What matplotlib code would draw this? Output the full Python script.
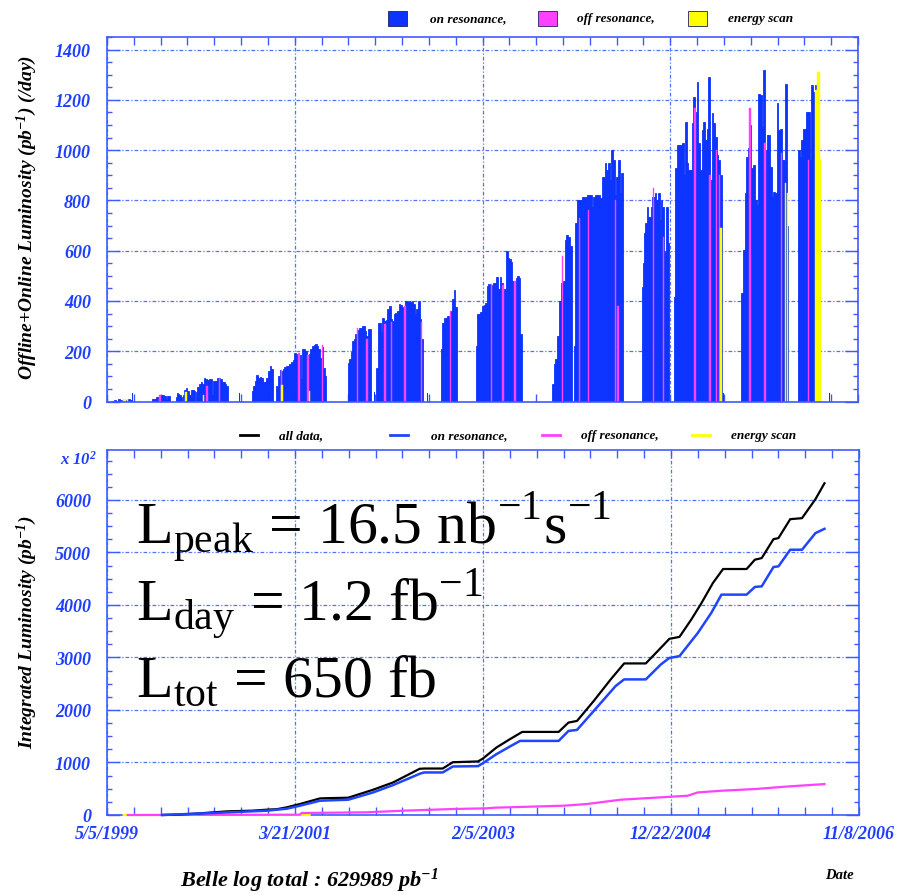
import numpy as np
import matplotlib
matplotlib.use("Agg")
import matplotlib.pyplot as plt
import matplotlib.dates as mdates
import matplotlib.ticker as mticker
from matplotlib.patches import Rectangle
from matplotlib.lines import Line2D

# ---------------------------------------------------------------- data
# Daily luminosity (pb^-1/day), on-resonance running periods.
# Each period: first day, last day, daily values spread evenly over it.
run_starts = ["1999-05-25", "1999-10-15", "2000-01-11", "2000-02-06", "2000-03-24",
              "2000-10-14", "2001-01-13", "2001-09-30", "2002-01-12", "2002-09-06",
              "2003-01-11", "2003-10-16", "2004-01-04", "2004-09-08", "2005-01-03",
              "2005-09-08", "2006-04-03"]
run_ends = ["1999-08-02", "1999-12-21", "2000-02-02", "2000-03-21", "2000-07-19",
            "2000-12-30", "2001-07-14", "2001-12-24", "2002-07-01", "2002-11-02",
            "2003-06-28", "2003-12-28", "2004-07-01", "2004-12-16", "2005-06-27",
            "2006-02-26", "2006-06-08"]
lum_run01 = [2, 4, 3, 8, 6, 3, 2, 5, 8, 6]
lum_run02 = [8, 10, 10, 17, 17, 22, 24, 24, 20, 6, 21, 21]
lum_run03 = [17, 34, 29, 24, 17]
lum_run04 = [24, 47, 52, 43, 24, 47, 47, 40]
lum_run05 = [37, 56, 69, 76, 69, 92, 89, 85, 89, 89, 24, 82, 82, 92, 95, 88, 76, 78, 69, 63]
lum_run06 = [43, 63, 82, 105, 95, 97, 95, 76, 76, 95, 122, 141, 128]
lum_run07 = [63, 102, 125, 120, 128, 139, 141, 143, 148, 157, 167, 194, 187, 180, 185, 89,
             207, 209, 200, 175, 190, 207, 220, 226, 230, 220, 207, 175, 215, 134, 100]
lum_run08 = [155, 168, 195, 241, 248, 268, 285, 294, 294, 301, 301, 281, 260, 287, 287]
lum_run09 = [135, 314, 311, 277, 334, 320, 325, 367, 380, 330, 321, 347, 351, 360, 387,
             383, 374, 370, 400, 394, 400, 394, 400, 387, 347, 367, 400, 330, 250]
lum_run10 = [209, 314, 334, 334, 340, 327, 360, 407, 444, 374]
lum_run11 = [221, 347, 350, 356, 380, 385, 393, 460, 466, 462, 460, 470, 473, 496, 447,
             496, 473, 447, 447, 599, 572, 565, 553, 480, 480, 493, 500, 493, 268]
lum_run12 = [69, 148, 168, 261, 400, 472, 480, 644, 664, 656, 618]
lum_run13 = [219, 709, 801, 801, 801, 815, 815, 815, 821, 821, 821, 775, 815, 821, 821,
             821, 808, 894, 894, 947, 921, 947, 881, 1000, 960, 821, 894, 960, 828, 907]
lum_run14 = [457, 550, 669, 709, 775, 735, 735, 775, 815, 815, 828, 801, 801, 828, 722,
             801, 775, 600, 590, 775, 629]
lum_run15 = [417, 927, 1020, 1020, 1020, 1027, 901, 1113, 948, 921, 921, 1106, 1212, 1150,
             1272, 1027, 921, 1080, 1113, 1040, 1086, 1292, 880, 1146, 1106, 1053, 980,
             961, 901]
lum_run16 = [430, 603, 828, 974, 1007, 1100, 927, 940, 801, 782, 1225, 1219, 1093, 1318,
             1000, 1060, 1060, 934, 815, 834, 828, 1186, 1080, 1086, 960, 961, 1265, 700]
lum_run17 = [1000, 974, 1040, 1086, 1086, 1153, 1153, 961, 1259, 1232, 1259]
run_lums = [lum_run01, lum_run02, lum_run03, lum_run04, lum_run05, lum_run06, lum_run07,
            lum_run08, lum_run09, lum_run10, lum_run11, lum_run12, lum_run13, lum_run14,
            lum_run15, lum_run16, lum_run17]

# isolated single on-resonance days between periods
spike_dates = ["1999-08-07", "2000-09-01", "2002-01-06", "2002-07-19", "2003-08-20",
               "2005-07-04", "2006-07-28"]
spike_vals = [33, 33, 36, 33, 33, 33, 33]

# off-resonance days
off_dates = ["1999-11-14", "2000-05-05", "2000-06-18", "2001-02-01", "2001-04-06",
             "2001-05-09", "2001-07-01", "2001-11-06", "2001-12-10", "2002-02-14",
             "2002-03-10", "2002-04-28", "2002-06-28", "2002-10-12", "2003-03-10",
             "2003-04-21", "2003-06-04", "2003-11-25", "2004-01-26", "2004-02-28",
             "2004-06-04", "2004-06-14", "2004-10-21", "2004-11-28", "2005-03-23",
             "2005-05-16", "2005-06-10", "2005-06-19", "2005-10-09", "2005-12-03",
             "2006-02-02", "2006-05-12"]
off_vals = [27, 63, 95, 125, 191, 183, 225, 291, 250, 307, 317, 378, 317, 360, 466, 462,
            480, 578, 729, 763, 801, 378, 848, 656, 1166, 901, 1000, 901, 1166, 1027, 987,
            961]

# energy-scan days
scan_dates = ["1999-07-05", "1999-07-12", "1999-07-20", "2000-02-17", "2000-04-21",
              "2001-02-03", "2001-05-13", "2005-06-25", "2006-02-17", "2006-02-23",
              "2006-06-06", "2006-06-10", "2006-06-14", "2006-06-18", "2006-06-22"]
scan_vals = [8, 8, 8, 37, 24, 67, 43, 689, 868, 828, 1239, 1239, 1312, 1312, 961]

# Integrated luminosity (x 10^2 pb^-1)
all_dates = ["1999-11-22", "2000-01-10", "2000-03-20", "2000-05-28", "2000-07-20",
             "2000-10-14", "2000-12-08", "2001-01-13", "2001-02-19", "2001-04-08",
             "2001-06-20", "2001-07-15", "2001-10-01", "2001-12-31", "2002-03-14",
             "2002-06-19", "2002-07-05", "2002-09-11", "2002-10-18", "2003-01-18",
             "2003-02-05", "2003-03-26", "2003-05-14", "2003-06-28", "2003-11-08",
             "2003-12-14", "2004-01-14", "2004-03-15", "2004-05-16", "2004-07-04",
             "2004-09-21", "2004-11-15", "2004-12-16", "2005-01-22", "2005-03-06",
             "2005-04-11", "2005-05-24", "2005-06-30", "2005-09-24", "2005-10-24",
             "2005-11-18", "2005-12-31", "2006-01-18", "2006-03-02", "2006-04-14",
             "2006-06-02", "2006-07-05"]
all_vals = [0, 5, 25, 51, 70, 82, 101, 110, 146, 209, 316, 320, 329, 481, 620, 880, 885,
            885, 1005, 1020, 1076, 1285, 1443, 1582, 1582, 1760, 1791, 2171, 2582, 2886,
            2886, 3184, 3354, 3392, 3722, 4025, 4418, 4684, 4684, 4861, 4892, 5253, 5272,
            5633, 5652, 6013, 6316]

on_dates = ["1999-11-22", "2000-05-28", "2000-10-14", "2000-12-08", "2001-02-19",
            "2001-04-08", "2001-06-20", "2001-10-01", "2001-12-31", "2002-03-14",
            "2002-06-19", "2002-07-05", "2002-09-11", "2002-10-18", "2003-01-18",
            "2003-02-05", "2003-03-26", "2003-05-14", "2003-06-20", "2003-11-08",
            "2003-12-14", "2004-01-14", "2004-03-15", "2004-06-03", "2004-07-04",
            "2004-09-21", "2004-11-15", "2004-12-16", "2005-01-22", "2005-03-30",
            "2005-05-18", "2005-06-24", "2005-09-24", "2005-10-24", "2005-11-18",
            "2005-12-31", "2006-01-18", "2006-03-02", "2006-04-14", "2006-06-02",
            "2006-07-05"]
on_vals = [0, 38, 70, 82, 120, 177, 272, 291, 430, 570, 785, 810, 810, 924, 930, 987,
           1158, 1304, 1411, 1411, 1601, 1620, 1981, 2456, 2582, 2582, 2867, 2990, 3025,
           3468, 3848, 4196, 4196, 4342, 4354, 4722, 4734, 5051, 5051, 5367, 5449]

off_cum_dates = ["1999-07-20", "2001-04-08", "2001-04-14", "2001-12-07", "2002-04-20",
                 "2002-10-19", "2003-02-17", "2003-03-20", "2003-11-26", "2004-02-19",
                 "2004-06-21", "2004-10-22", "2005-02-21", "2005-03-30", "2005-06-24",
                 "2005-10-24", "2006-02-24", "2006-07-05"]
off_cum_vals = [0, 5, 38, 51, 82, 114, 127, 139, 177, 209, 291, 329, 367, 430, 462, 494,
                544, 589]

scan_cum_dates = ["1999-07-05", "2001-05-13"]
scan_cum_vals = [0, 2]

major_dates = ["1999-05-05", "2001-03-21", "2003-02-05", "2004-12-22", "2006-11-08"]

# ---------------------------------------------------------------- style
W, H = 908, 895
BLUE = "#0d33ff"
MAGENTA = "#ff40ff"
YELLOW = "#ffff00"
AXCOL = "#3d5cff"
TXTBLUE = "#1f3fff"
GRIDCOL = "#5070ff"
SERIF = "Liberation Serif"
LABEL_FONT = dict(family=SERIF, weight="bold", style="italic")


def fx(x):
    return x / W


def fy(y):
    return 1 - y / H


def dnum(seq):
    return np.array([mdates.datestr2num(s) for s in seq])


fig = plt.figure(figsize=(W / 100, H / 100), dpi=100)

xmin, xmax = mdates.datestr2num(major_dates[0]), mdates.datestr2num(major_dates[-1])
minor_x = np.arange(xmin, xmax + 1, 98.0)


def date_label(v, pos):
    t = mdates.num2date(v)
    return f"{t.month}/{t.day}/{t.year}"


def style_axes(ax, ymax, ymajor, yminor):
    ax.set_xlim(xmin, xmax)
    ax.set_ylim(0, ymax)
    ax.set_axisbelow(True)
    ax.xaxis.set_major_locator(mticker.FixedLocator(dnum(major_dates)))
    ax.xaxis.set_minor_locator(mticker.FixedLocator(minor_x))
    ax.yaxis.set_major_locator(mticker.MultipleLocator(ymajor))
    ax.yaxis.set_minor_locator(mticker.MultipleLocator(yminor))
    for s in ax.spines.values():
        s.set_color(AXCOL)
        s.set_linewidth(1.2)
        s.set_zorder(4)
    ax.tick_params(axis="both", which="both", direction="in", colors=AXCOL,
                   top=True, right=True, width=1.0)
    ax.tick_params(axis="x", which="both", length=5.8)
    ax.tick_params(axis="y", which="major", length=9.4, pad=11.5)
    ax.tick_params(axis="y", which="minor", length=3.6)
    ax.tick_params(labelcolor=TXTBLUE, labelsize=13)
    for lab in ax.get_yticklabels() + ax.get_xticklabels():
        lab.set_fontfamily(SERIF)
        lab.set_fontweight("bold")
        lab.set_fontstyle("italic")
    ax.grid(True, which="major", color=GRIDCOL, linestyle=(0, (3, 1.6, 1, 1.6)),
            linewidth=0.9)


# ---------------------------------------------------------------- daily luminosity
ax1 = fig.add_axes([fx(107), fy(402.5), (858 - 107) / W, (402.5 - 38) / H])
for start, end, vals in zip(run_starts, run_ends, run_lums):
    edges = np.linspace(mdates.datestr2num(start), mdates.datestr2num(end) + 1,
                        len(vals) + 1)
    ax1.bar(edges[:-1], vals, width=np.diff(edges), align="edge", color=BLUE,
            edgecolor=BLUE, linewidth=0.6)
ax1.bar(dnum(spike_dates), spike_vals, width=2.5, color=BLUE, linewidth=0)
ax1.bar(dnum(off_dates), off_vals, width=5, color=MAGENTA, edgecolor=MAGENTA,
        linewidth=0.3)
ax1.bar(dnum(scan_dates), scan_vals, width=5, color=YELLOW, edgecolor=YELLOW,
        linewidth=0.3)
style_axes(ax1, 1450, 200, 50)
ax1.tick_params(axis="x", labelbottom=False)

# ---------------------------------------------------------------- integrated luminosity
ax2 = fig.add_axes([fx(107), fy(816), (859 - 107) / W, (816 - 451) / H])
curve_kw = dict(clip_on=False, zorder=5)
ax2.plot(dnum(scan_cum_dates), scan_cum_vals, color=YELLOW, lw=1.6, **curve_kw)
ax2.plot(dnum(off_cum_dates), off_cum_vals, color=MAGENTA, lw=1.6, **curve_kw)
ax2.plot(dnum(all_dates), all_vals, color="black", lw=1.6, **curve_kw)
ax2.plot(dnum(on_dates), on_vals, color="#1f45ff", lw=1.8, **curve_kw)
style_axes(ax2, 6950, 1000, 250)
ax2.xaxis.set_major_formatter(mticker.FuncFormatter(date_label))
ax2.tick_params(axis="x", pad=7)
for lab in ax2.get_xticklabels():
    lab.set_fontfamily(SERIF)
    lab.set_fontweight("bold")
    lab.set_fontstyle("italic")

# ---------------------------------------------------------------- axis titles
fig.text(fx(27), fy(218), r"Offline+Online Luminosity $\mathregular{(pb^{-1})}$ (/day)",
         rotation=90, ha="center", va="center", fontsize=14, **LABEL_FONT)
fig.text(fx(27), fy(632), r"Integrated Luminosity $\mathregular{(pb^{-1})}$",
         rotation=90, ha="center", va="center", fontsize=14, **LABEL_FONT)
fig.text(fx(60), fy(465), r"x 10$\mathregular{^{2}}$", color=TXTBLUE, ha="left",
         va="baseline", fontsize=12, **LABEL_FONT)
fig.text(fx(180), fy(887), r"Belle log total : 629989 pb$\mathregular{^{-1}}$",
         ha="left", va="baseline", fontsize=16, **LABEL_FONT)
fig.text(fx(825), fy(879), "Date", ha="left", va="baseline", fontsize=10.5, **LABEL_FONT)

# ---------------------------------------------------------------- legends
legend_fs = 9.5
top_keys = [(388, BLUE, "on resonance,", 430), (538, MAGENTA, "off resonance,", 577),
            (688, YELLOW, "energy scan", 728)]
for kx, col, txt, tx in top_keys:
    fig.add_artist(Rectangle((fx(kx), fy(27)), 19 / W, 15 / H, transform=fig.transFigure,
                             facecolor=col, edgecolor="#202060", linewidth=0.6))
    fig.text(fx(tx), fy(19), txt, ha="left", va="center", fontsize=legend_fs, **LABEL_FONT)

bottom_keys = [(240, "black", "all data,", 279), (390, "#1f45ff", "on resonance,", 431),
               (542, MAGENTA, "off resonance,", 581), (692, YELLOW, "energy scan", 731)]
for kx, col, txt, tx in bottom_keys:
    fig.add_artist(Line2D([fx(kx), fx(kx + 18)], [fy(436), fy(436)],
                          transform=fig.transFigure, color=col, lw=2))
    fig.text(fx(tx), fy(436), txt, ha="left", va="center", fontsize=legend_fs, **LABEL_FONT)

# ---------------------------------------------------------------- machine figures
big = dict(family=SERIF, fontsize=43, color="black", ha="left", va="baseline")
fig.text(fx(136), fy(543), r"L$_{\mathregular{peak}}$ = 16.5 nb$^{\mathregular{-1}}$"
         r"s$^{\mathregular{-1}}$", **big)
fig.text(fx(136), fy(620), r"L$_{\mathregular{day}}$ = 1.2 fb$^{\mathregular{-1}}$", **big)
fig.text(fx(136), fy(697), r"L$_{\mathregular{tot}}$ = 650 fb", **big)

fig.savefig("out.png", dpi=100)
